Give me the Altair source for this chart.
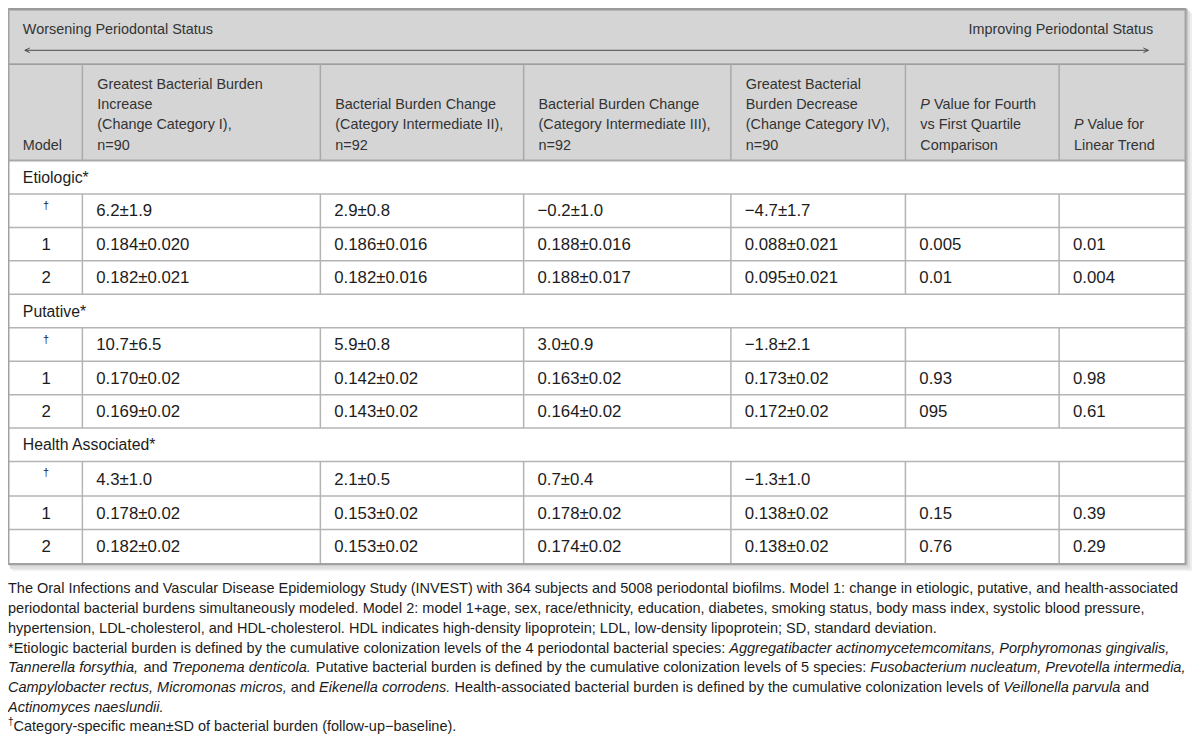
import altair as alt
import pandas as pd

# ---------------- data ----------------
left_label = "Worsening Periodontal Status"
right_label = "Improving Periodontal Status"
model_header = "Model"

header_col1 = ["Greatest Bacterial Burden", "Increase", "(Change Category I),", "n=90"]
header_col2 = ["Bacterial Burden Change", "(Category Intermediate II),", "n=92"]
header_col3 = ["Bacterial Burden Change", "(Category Intermediate III),", "n=92"]
header_col4 = ["Greatest Bacterial", "Burden Decrease", "(Change Category IV),", "n=90"]
header_col5 = ["Value for Fourth", "vs First Quartile", "Comparison"]   # first line led by italic P
header_col6 = ["Value for", "Linear Trend"]                           # first line led by italic P
italic_lead = "P"

groups = ["Etiologic*", "Putative*", "Health Associated*"]
model_labels = ["\u2020", "1", "2"]

greatest_increase = ["6.2\u00b11.9", "0.184\u00b10.020", "0.182\u00b10.021",
                     "10.7\u00b16.5", "0.170\u00b10.02", "0.169\u00b10.02",
                     "4.3\u00b11.0", "0.178\u00b10.02", "0.182\u00b10.02"]
intermediate_ii = ["2.9\u00b10.8", "0.186\u00b10.016", "0.182\u00b10.016",
                   "5.9\u00b10.8", "0.142\u00b10.02", "0.143\u00b10.02",
                   "2.1\u00b10.5", "0.153\u00b10.02", "0.153\u00b10.02"]
intermediate_iii = ["\u22120.2\u00b11.0", "0.188\u00b10.016", "0.188\u00b10.017",
                    "3.0\u00b10.9", "0.163\u00b10.02", "0.164\u00b10.02",
                    "0.7\u00b10.4", "0.178\u00b10.02", "0.174\u00b10.02"]
greatest_decrease = ["\u22124.7\u00b11.7", "0.088\u00b10.021", "0.095\u00b10.021",
                     "\u22121.8\u00b12.1", "0.173\u00b10.02", "0.172\u00b10.02",
                     "\u22121.3\u00b11.0", "0.138\u00b10.02", "0.138\u00b10.02"]
p_fourth_vs_first = ["", "0.005", "0.01", "", "0.93", "095", "", "0.15", "0.76"]
p_linear_trend = ["", "0.01", "0.004", "", "0.98", "0.61", "", "0.39", "0.29"]

footnote_lines = [
    [("The Oral Infections and Vascular Disease Epidemiology Study (INVEST) with 364 subjects and 5008 periodontal biofilms. Model 1: change in etiologic, putative, and health-associated", False)],
    [("periodontal bacterial burdens simultaneously modeled. Model 2: model 1+age, sex, race/ethnicity, education, diabetes, smoking status, body mass index, systolic blood pressure,", False)],
    [("hypertension, LDL-cholesterol, and HDL-cholesterol. HDL indicates high-density lipoprotein; LDL, low-density lipoprotein; SD, standard deviation.", False)],
    [("*Etiologic bacterial burden is defined by the cumulative colonization levels of the 4 periodontal bacterial species:", False),
     ("Aggregatibacter actinomycetemcomitans, Porphyromonas gingivalis,", True)],
    [("Tannerella forsythia,", True), ("and", False), ("Treponema denticola.", True),
     ("Putative bacterial burden is defined by the cumulative colonization levels of 5 species:", False),
     ("Fusobacterium nucleatum, Prevotella intermedia,", True)],
    [("Campylobacter rectus, Micromonas micros,", True), ("and", False), ("Eikenella corrodens.", True),
     ("Health-associated bacterial burden is defined by the cumulative colonization levels of", False),
     ("Veillonella parvula", True), ("and", False)],
    [("Actinomyces naeslundii.", True)],
]
dagger_note = "Category-specific mean\u00b1SD of bacterial burden (follow-up\u2212baseline)."

# ---------------- layout ----------------
W, H = 1184, 733


def X(r):
    return (r - 2.0) * W / 1194.0


def Y(r):
    return r * H / 745.0


AW = {' ': 278, '!': 278, '"': 355, '#': 556, '$': 556, '%': 889, '&': 667, "'": 191, '(': 333, ')': 333,
      '*': 389, '+': 584, ',': 278, '-': 333, '.': 278, '/': 278, ':': 278, ';': 278, '<': 584, '=': 584,
      '>': 584, '?': 556, '@': 1015, 'A': 667, 'B': 667, 'C': 722, 'D': 722, 'E': 667, 'F': 611, 'G': 778,
      'H': 722, 'I': 278, 'J': 500, 'K': 667, 'L': 556, 'M': 833, 'N': 722, 'O': 778, 'P': 667, 'Q': 778,
      'R': 722, 'S': 667, 'T': 611, 'U': 722, 'V': 667, 'W': 944, 'X': 667, 'Y': 667, 'Z': 611,
      'a': 556, 'b': 556, 'c': 500, 'd': 556, 'e': 556, 'f': 278, 'g': 556, 'h': 556, 'i': 222, 'j': 222,
      'k': 500, 'l': 222, 'm': 833, 'n': 556, 'o': 556, 'p': 556, 'q': 556, 'r': 333, 's': 500, 't': 278,
      'u': 556, 'v': 500, 'w': 722, 'x': 500, 'y': 500, 'z': 500,
      '\u00b1': 584, '\u2212': 584, '\u2020': 556}
for d in "0123456789":
    AW[d] = 556


def tw(s, size):
    return sum(AW.get(c, 556) for c in s) * size / 1000.0


col_edges = [2, 77, 317, 522, 731, 907, 1062, 1190]
row_edges = [155, 189, 223, 257, 291, 325, 359, 393, 427, 461, 496, 530, 565]
header_slots = [78, 98.7, 119.3, 140]

FONT = "Liberation Sans"
HDR_FS, BODY_FS, GRP_FS, NOTE_FS = 14.4, 16.8, 15.8, 14.5
HDR_C, BODY_C = "#333333", "#1c1c1c"
LINE_C = "#a9a9a9"

# rectangles
rects = []
for (x1, x2, y1, y2, c) in [(6, 1196, 5, 572, "#ededed"), (4, 1194, 3, 570, "#dedede"),
                            (3, 1192, 1, 567, "#c6c6c6"),
                            (2, 1190, 0, 155, "#d5d5d5"), (2, 1190, 155, 565, "#ffffff")]:
    rects.append(dict(x=X(x1), x2=X(x2), y=Y(y1), y2=Y(y2), c=c))
rect_df = pd.DataFrame(rects)

# rules
rules = []


def rule(x1, y1, x2, y2, c, w):
    rules.append(dict(x=X(x1), y=Y(y1), x2=X(x2), y2=Y(y2), c=c, w=w))


rule(2, 57, 1190, 57, "#8c8c8c", 1.2)
rule(2, 155, 1190, 155, LINE_C, 2)
for xe in col_edges[1:-1]:
    rule(xe, 57, xe, 155, LINE_C, 1.5)
for rb in row_edges[1:-1]:
    rule(2, rb, 1190, rb, "#b4b4b4", 1.5)
for g in range(3):
    top, bot = row_edges[1 + 4 * g], row_edges[4 + 4 * g]
    for xe in col_edges[1:-1]:
        rule(xe, top, xe, bot, "#b4b4b4", 1.5)
# outer border
rule(2, 1, 1190, 1, "#9a9a9a", 3)
rule(2.5, 0, 2.5, 565, "#a2a2a2", 2)
rule(1189.5, 0, 1189.5, 565, "#a2a2a2", 2)
rule(2, 565, 1190, 565, "#a2a2a2", 2)
# arrow
rule(19, 43, 1152, 43, "#4a4a4a", 1)
rule(19, 43, 24, 40.6, "#4a4a4a", 1)
rule(19, 43, 24, 45.4, "#4a4a4a", 1)
rule(1152, 43, 1147, 40.6, "#4a4a4a", 1)
rule(1152, 43, 1147, 45.4, "#4a4a4a", 1)
rule_df = pd.DataFrame(rules)

# texts
texts = []


def txt(xc, yr, s, fs, c, it=False):
    texts.append(dict(x=xc, y=Y(yr), t=s, fs=fs, c=c, it=it))


txt(X(17), 22, left_label, HDR_FS, HDR_C)
txt(X(1157) - tw(right_label, HDR_FS), 22, right_label, HDR_FS, HDR_C)
txt(X(17), header_slots[3], model_header, HDR_FS, HDR_C)

headers = [header_col1, header_col2, header_col3, header_col4, header_col5, header_col6]
for ci, lines in enumerate(headers):
    x0 = X(col_edges[ci + 1] + 15)
    slots = header_slots[4 - len(lines):]
    for li, (line, yr) in enumerate(zip(lines, slots)):
        if ci >= 4 and li == 0:
            txt(x0, yr, italic_lead, HDR_FS, HDR_C, True)
            txt(x0 + tw(italic_lead + " ", HDR_FS), yr, line, HDR_FS, HDR_C)
        else:
            txt(x0, yr, line, HDR_FS, HDR_C)

columns = [greatest_increase, intermediate_ii, intermediate_iii, greatest_decrease,
           p_fourth_vs_first, p_linear_trend]
for g, grp in enumerate(groups):
    r0 = 4 * g
    yc = (row_edges[r0] + row_edges[r0 + 1]) / 2 + 0.5
    txt(X(17), yc, grp, GRP_FS, BODY_C)
    for m, lab in enumerate(model_labels):
        r = r0 + 1 + m
        yc = (row_edges[r] + row_edges[r + 1]) / 2 + 0.8
        if lab == "\u2020":
            txt(X(40.5) - tw(lab, 11) / 2, row_edges[r] + 12, lab, 11, BODY_C)
        else:
            txt(X(40.5) - tw(lab, BODY_FS) / 2, yc, lab, BODY_FS, BODY_C)
        for ci, col in enumerate(columns):
            v = col[3 * g + m]
            if v:
                txt(X(col_edges[ci + 1] + 14), yc, v, BODY_FS, BODY_C)

note_y0, note_dy = 591, 20
for li, segs in enumerate(footnote_lines):
    cx = X(2)
    yr = note_y0 + li * note_dy
    for s, it in segs:
        txt(cx, yr, s, NOTE_FS, BODY_C, it)
        cx += tw(s + " ", NOTE_FS)
yr = note_y0 + len(footnote_lines) * note_dy
txt(X(2), yr - 5, "\u2020", 10, BODY_C)
txt(X(2) + tw("\u2020", 10), yr, dagger_note, NOTE_FS, BODY_C)
text_df = pd.DataFrame(texts)

# ---------------- chart ----------------
xs = alt.Scale(domain=[0, W], nice=False, zero=False)
ys = alt.Scale(domain=[0, H], nice=False, zero=False, reverse=True)

rect_layer = alt.Chart(rect_df).mark_rect().encode(
    x=alt.X("x:Q", scale=xs, axis=None), x2="x2:Q",
    y=alt.Y("y:Q", scale=ys, axis=None), y2="y2:Q",
    color=alt.Color("c:N", scale=None),
)

rule_layer = alt.Chart(rule_df).mark_rule().encode(
    x=alt.X("x:Q", scale=xs, axis=None), x2="x2:Q",
    y=alt.Y("y:Q", scale=ys, axis=None), y2="y2:Q",
    color=alt.Color("c:N", scale=None),
    strokeWidth=alt.StrokeWidth("w:Q", scale=None),
)


def text_layer(italic):
    return alt.Chart(text_df).transform_filter(
        alt.datum.it == italic
    ).mark_text(align="left", baseline="middle", font=FONT,
                fontStyle="italic" if italic else "normal").encode(
        x=alt.X("x:Q", scale=xs, axis=None),
        y=alt.Y("y:Q", scale=ys, axis=None),
        text="t:N",
        size=alt.Size("fs:Q", scale=None),
        color=alt.Color("c:N", scale=None),
    )


chart = alt.layer(rect_layer, rule_layer, text_layer(False), text_layer(True)).properties(
    width=W, height=H, padding=0, autosize=alt.AutoSizeParams(type="none"),
    background="#ffffff",
).configure_view(stroke=None)

chart.save("out.html", embed_options={"renderer": "svg", "actions": False})
